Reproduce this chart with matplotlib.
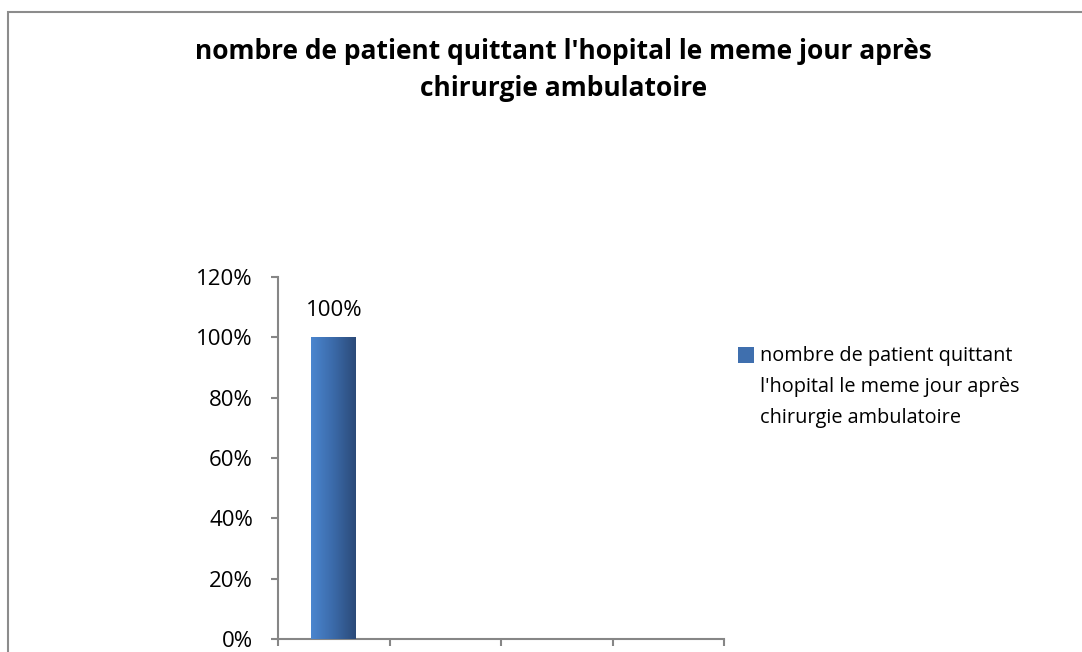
import numpy as np
import matplotlib.pyplot as plt
from matplotlib.patches import Rectangle
from matplotlib.colors import LinearSegmentedColormap

# data
categories = ['', '', '', '']
values = [1.0, 0, 0, 0]
yticks = [0, 0.2, 0.4, 0.6, 0.8, 1.0, 1.2]
ytick_labels = ['0%', '20%', '40%', '60%', '80%', '100%', '120%']
series_name = "nombre de patient quittant\nl'hopital le meme jour après\nchirurgie ambulatoire"
title = "nombre de patient quittant l'hopital le meme jour après\nchirurgie ambulatoire"

plt.rcParams['font.family'] = ['Open Sans', 'DejaVu Sans']
axis_grey = '#868686'
W, H = 1082, 652

fig = plt.figure(figsize=(W / 100, H / 100), dpi=100)
# outer chart border (right and bottom fall outside the picture)
fig.patches.append(Rectangle((8 / W, -0.1), 1.2, 1 - 12 / H + 0.1,
                             transform=fig.transFigure, fill=False,
                             edgecolor='#8c8c8c', linewidth=1.5))

ax = fig.add_axes([278 / W, 13 / H, 446 / W, 362 / H])
x = np.arange(len(categories))
bars = ax.bar(x[:1], values[:1], width=0.4, color='#3f6fae', zorder=2)

# gradient fill like the excel bar
cmap = LinearSegmentedColormap.from_list('bar', ['#4a86cf', '#3b6aa9', '#2b4a78'])
for b in bars:
    x0, y0 = b.get_x(), b.get_y()
    w, h = b.get_width(), b.get_height()
    grad = np.linspace(0, 1, 256).reshape(1, -1)
    im = ax.imshow(grad, cmap=cmap, extent=(x0, x0 + w, y0, y0 + h),
                   aspect='auto', zorder=3)
    im.set_clip_path(b)
    ax.text(x0 + w / 2, h + 0.09, f'{values[0]:.0%}', ha='center', va='center',
            fontsize=16, color='black')

ax.set_xlim(-0.5, len(categories) - 0.5)
ax.set_ylim(0, 1.2)
ax.set_yticks(yticks)
ax.set_yticklabels(ytick_labels, fontsize=16)
ax.set_xticks(np.arange(len(categories) + 1) - 0.5)
ax.set_xticklabels([''] * (len(categories) + 1))
for s in ['top', 'right']:
    ax.spines[s].set_visible(False)
for s in ['left', 'bottom']:
    ax.spines[s].set_color(axis_grey)
    ax.spines[s].set_linewidth(1.5)
ax.tick_params(axis='y', direction='out', length=5, color=axis_grey, width=1.5, pad=13)
ax.tick_params(axis='x', direction='out', length=5, color=axis_grey, width=1.5)

fig.text(0.521, 1 - 70 / H, title, ha='center', va='center', fontsize=19,
         fontweight='bold', linespacing=1.5)

# legend
fig.patches.append(Rectangle((738 / W, 1 - 363 / H), 16 / W, 16 / H,
                             transform=fig.transFigure, facecolor='#3f6fae',
                             edgecolor='none'))
fig.text(760 / W, 1 - 387 / H, series_name, ha='left', va='center',
         fontsize=14.3, linespacing=1.72)

fig.savefig('out.png', dpi=100)
